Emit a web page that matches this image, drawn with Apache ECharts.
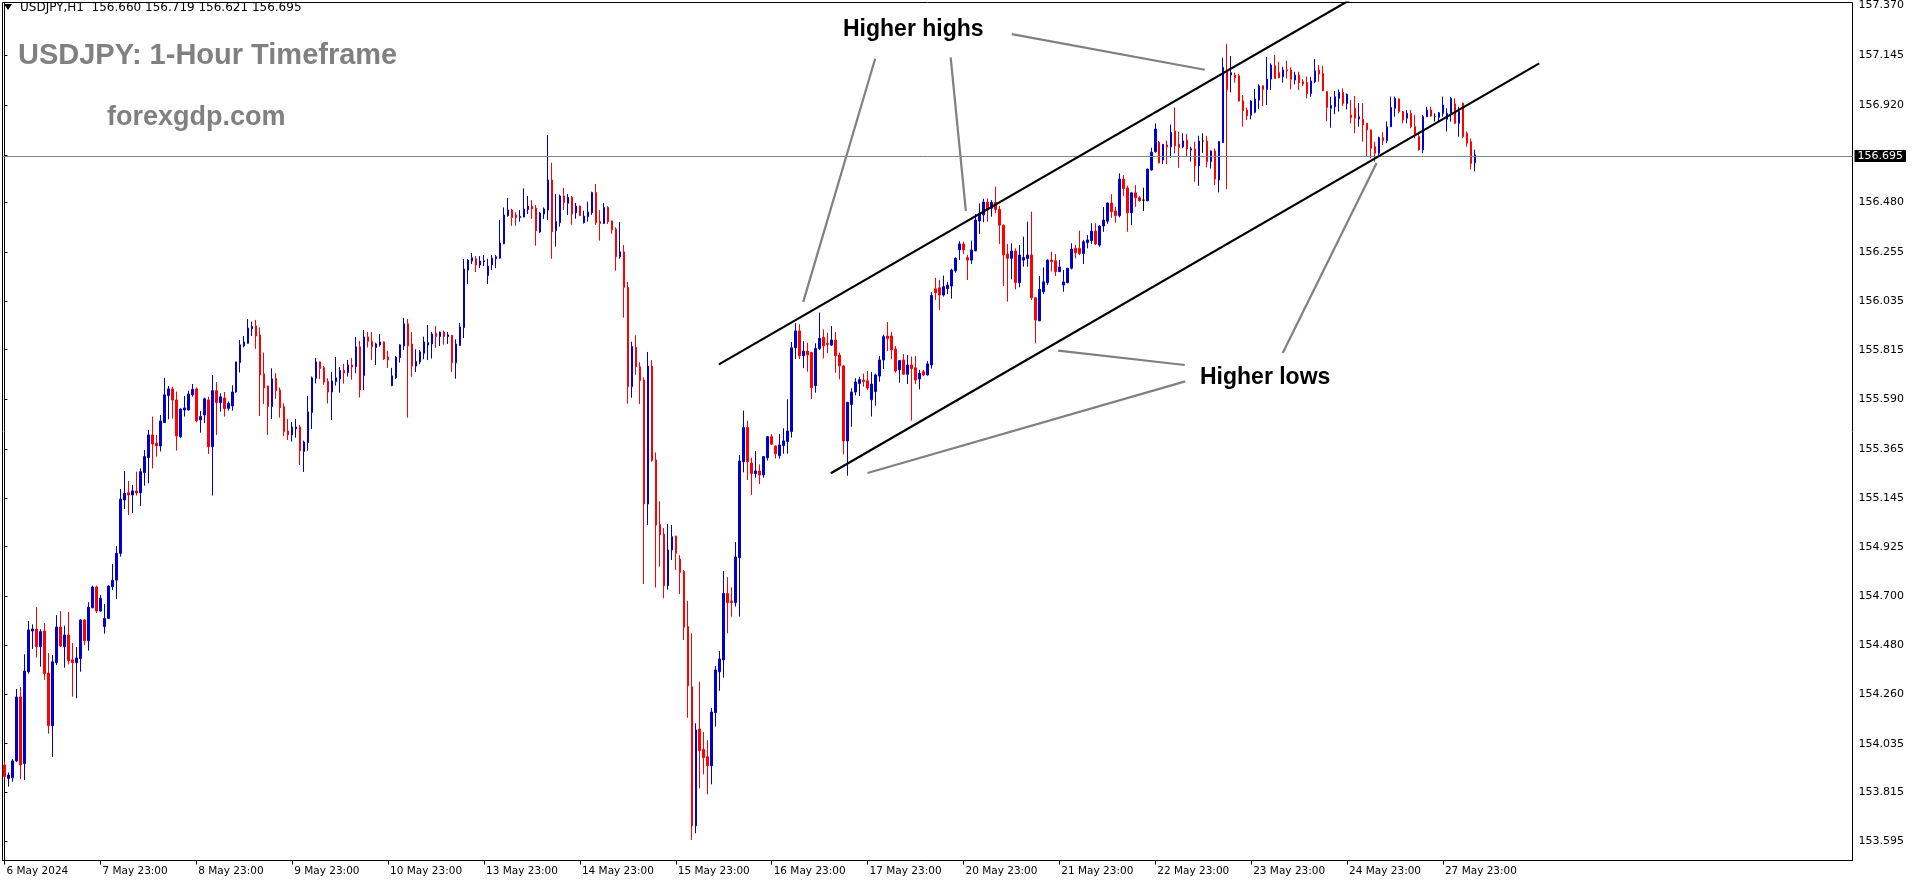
<!DOCTYPE html>
<html><head><meta charset="utf-8">
<script src="https://cdn.jsdelivr.net/npm/echarts@6/dist/echarts.min.js"></script>
<style>html,body{margin:0;padding:0;background:#fff;}#c{width:1916px;height:884px;}</style>
</head><body><div id="c"></div>
<script>
// ---- data (USDJPY H1) ----
const opens=[
153.939,153.878,153.881,153.957,154.246,153.945,154.360,154.544,154.553,154.473,
154.544,154.354,154.116,154.401,154.562,154.473,154.526,154.414,154.401,154.419,
154.594,154.500,154.649,154.743,154.634,154.564,154.601,154.744,154.774,154.895,
155.136,155.169,155.159,155.177,155.169,155.260,155.328,155.430,155.392,155.380,
155.486,155.608,155.638,155.588,155.422,155.543,155.543,155.611,155.638,155.498,
155.520,155.588,155.377,155.630,155.576,155.597,155.550,155.561,155.624,155.757,
155.832,155.844,155.910,155.923,155.882,155.706,155.651,155.558,155.686,155.633,
155.557,155.448,155.430,155.457,155.466,155.355,155.395,155.531,155.686,155.760,
155.733,155.672,155.624,155.671,155.683,155.721,155.712,155.746,155.739,155.828,
155.698,155.873,155.853,155.825,155.837,155.850,155.782,155.653,155.688,155.779,
155.832,155.932,155.841,155.741,155.760,155.799,155.836,155.841,155.889,155.874,
155.895,155.874,155.880,155.756,155.835,155.915,156.175,156.216,156.226,156.198,
156.213,156.150,156.198,156.226,156.229,156.294,156.421,156.446,156.424,156.412,
156.415,156.449,156.464,156.455,156.347,156.428,156.446,156.582,156.353,156.389,
156.510,156.477,156.504,156.434,156.464,156.389,156.416,156.434,156.525,156.394,
156.385,156.458,156.397,156.360,156.235,156.257,156.097,155.648,155.826,155.738,
155.678,155.118,155.741,155.317,155.026,154.982,154.749,154.910,154.973,154.869,
154.812,154.564,154.292,153.664,154.101,154.009,153.976,153.935,154.175,154.360,
154.413,154.714,154.680,154.672,154.875,155.309,155.464,155.303,155.255,155.267,
155.249,155.327,155.422,155.380,155.336,155.382,155.400,155.445,155.824,155.900,
155.788,155.809,155.802,155.653,155.821,155.871,155.844,155.836,155.859,155.791,
155.742,155.403,155.567,155.624,155.662,155.678,155.675,155.589,155.626,155.696,
155.769,155.877,155.877,155.818,155.724,155.769,155.704,155.746,155.733,155.683,
155.716,155.701,155.746,156.090,156.095,156.062,156.091,156.103,156.172,156.266,
156.293,156.231,156.220,156.262,156.397,156.424,156.482,156.454,156.481,156.449,
156.378,156.247,156.228,156.261,156.118,156.220,156.228,156.243,156.050,155.946,
156.077,156.118,156.220,156.217,156.168,156.107,156.118,156.183,156.273,156.273,
156.250,156.299,156.308,156.351,156.288,156.374,156.396,156.478,156.442,156.421,
156.586,156.546,156.434,156.524,156.502,156.491,156.488,156.627,156.710,156.752,
156.672,156.740,156.732,156.803,156.744,156.731,156.762,156.717,156.722,156.646,
156.758,156.758,156.665,156.713,156.582,156.751,157.071,157.056,157.056,157.053,
156.940,156.898,156.875,156.888,156.943,157.008,156.991,157.038,157.098,157.067,
157.049,157.080,157.079,157.034,157.056,157.026,157.022,156.973,157.026,157.079,
157.064,156.981,156.906,156.913,156.951,156.978,156.928,156.876,156.906,156.858,
156.856,156.838,156.808,156.733,156.703,156.773,156.760,156.823,156.906,156.948,
156.891,156.861,156.883,156.823,156.778,156.718,156.868,156.898,156.868,156.865,
156.883,156.856,156.883,156.926,156.838,156.929,156.793,156.755,156.660];
const highs=[
153.954,153.905,153.966,154.282,154.291,154.439,154.589,154.574,154.652,154.552,
154.580,154.445,154.436,154.616,154.634,154.568,154.630,154.490,154.472,154.597,
154.597,154.674,154.749,154.749,154.707,154.666,154.750,154.847,154.928,155.186,
155.267,155.222,155.204,155.264,155.279,155.362,155.453,155.513,155.430,155.520,
155.688,155.651,155.648,155.626,155.550,155.606,155.630,155.660,155.645,155.538,
155.599,155.602,155.701,155.669,155.618,155.624,155.581,155.654,155.761,155.859,
155.877,155.954,155.942,155.950,155.916,155.802,155.653,155.731,155.709,155.644,
155.573,155.502,155.489,155.502,155.475,155.404,155.606,155.694,155.778,155.762,
155.742,155.686,155.715,155.782,155.737,155.751,155.769,155.778,155.873,155.855,
155.904,155.895,155.895,155.847,155.886,155.852,155.810,155.733,155.787,155.840,
155.959,155.954,155.895,155.817,155.814,155.874,155.927,155.895,155.922,155.897,
155.901,155.895,155.882,155.862,155.936,156.225,156.225,156.252,156.238,156.238,
156.243,156.226,156.243,156.243,156.401,156.458,156.501,156.452,156.436,156.446,
156.544,156.510,156.491,156.469,156.437,156.458,156.785,156.660,156.519,156.516,
156.546,156.519,156.510,156.478,156.466,156.443,156.484,156.529,156.564,156.446,
156.478,156.464,156.399,156.368,156.392,156.288,156.121,155.851,155.880,155.758,
155.690,155.805,155.768,155.351,155.131,155.009,155.027,155.023,154.975,154.887,
154.820,154.680,154.534,154.127,154.315,154.088,154.051,154.196,154.386,154.454,
154.815,154.787,154.741,154.946,155.339,155.540,155.494,155.327,155.357,155.297,
155.335,155.425,155.434,155.382,155.434,155.460,155.591,155.850,155.935,155.930,
155.854,155.847,155.806,155.844,155.983,155.907,155.892,155.922,155.895,155.802,
155.745,155.580,155.641,155.686,155.693,155.707,155.719,155.714,155.707,155.787,
155.883,155.940,155.895,155.832,155.769,155.796,155.791,155.784,155.787,155.724,
155.724,155.763,156.075,156.140,156.130,156.150,156.122,156.181,156.232,156.305,
156.303,156.244,156.308,156.428,156.476,156.497,156.499,156.491,156.552,156.464,
156.380,156.293,156.296,156.273,156.288,156.326,156.394,156.439,156.052,156.148,
156.187,156.223,156.258,156.247,156.220,156.175,156.185,156.296,156.288,156.353,
156.311,156.333,156.387,156.387,156.378,156.460,156.480,156.518,156.461,156.612,
156.604,156.556,156.526,156.559,156.509,156.547,156.634,156.728,156.838,156.758,
156.745,156.760,156.833,156.909,156.800,156.793,156.790,156.732,156.755,156.782,
156.793,156.782,156.716,156.725,156.758,157.135,157.196,157.142,157.067,157.061,
156.966,156.909,156.942,156.993,157.014,157.010,157.138,157.109,157.147,157.116,
157.094,157.121,157.091,157.071,157.071,157.037,157.049,157.047,157.129,157.101,
157.098,156.983,156.958,156.984,156.991,156.996,156.973,156.943,156.962,156.929,
156.929,156.840,156.810,156.755,156.778,156.798,156.846,156.959,156.959,156.950,
156.893,156.898,156.898,156.876,156.790,156.876,156.913,156.913,156.883,156.888,
156.959,156.906,156.956,156.951,156.913,156.931,156.801,156.770,156.719];
const lows=[
153.878,153.841,153.863,153.951,153.875,153.871,154.351,154.463,154.424,154.383,
154.324,154.080,153.975,154.390,154.472,154.378,154.393,154.247,154.240,154.360,
154.481,154.455,154.646,154.625,154.632,154.532,154.598,154.729,154.689,154.880,
155.095,155.068,155.077,155.156,155.109,155.201,155.212,155.279,155.332,155.355,
155.484,155.501,155.504,155.359,155.415,155.513,155.540,155.603,155.487,155.440,
155.483,155.344,155.156,155.430,155.535,155.513,155.540,155.540,155.621,155.712,
155.826,155.842,155.877,155.819,155.516,155.570,155.430,155.502,155.593,155.508,
155.425,155.407,155.400,155.418,155.294,155.263,155.359,155.457,155.663,155.683,
155.656,155.572,155.498,155.653,155.621,155.662,155.694,155.680,155.709,155.599,
155.633,155.825,155.769,155.746,155.829,155.769,155.733,155.650,155.683,155.757,
155.814,155.508,155.693,155.714,155.750,155.772,155.768,155.775,155.824,155.832,
155.838,155.841,155.714,155.684,155.832,155.868,156.112,156.202,156.166,156.184,
156.193,156.112,156.175,156.184,156.226,156.292,156.416,156.375,156.375,156.394,
156.413,156.428,156.406,156.285,156.344,156.406,156.401,156.226,156.281,156.371,
156.446,156.424,156.380,156.407,156.419,156.385,156.394,156.424,156.379,156.308,
156.383,156.383,156.339,156.172,156.226,155.960,155.571,155.598,155.702,155.570,
154.756,155.023,155.309,154.740,154.835,154.692,154.731,154.865,154.820,154.711,
154.503,154.152,153.600,153.630,153.833,153.896,153.806,153.851,154.112,154.274,
154.333,154.534,154.609,154.654,154.609,155.261,155.226,155.159,155.237,155.208,
155.237,155.314,155.385,155.323,155.323,155.345,155.345,155.418,155.773,155.773,
155.732,155.716,155.592,155.621,155.814,155.776,155.799,155.832,155.711,155.681,
155.342,155.246,155.467,155.609,155.606,155.648,155.633,155.513,155.562,155.671,
155.728,155.809,155.772,155.711,155.666,155.701,155.660,155.495,155.660,155.636,
155.696,155.699,155.730,156.040,155.995,156.055,156.067,156.046,156.163,156.220,
156.247,156.130,156.202,156.260,156.338,156.391,156.394,156.416,156.431,156.293,
156.103,156.032,156.133,156.088,156.097,156.190,156.190,156.040,155.844,155.944,
156.067,156.107,156.168,156.148,156.166,156.077,156.115,156.178,156.228,156.243,
156.202,156.273,156.293,156.288,156.280,156.348,156.384,156.411,156.389,156.413,
156.509,156.348,156.378,156.461,156.484,156.442,156.486,156.625,156.705,156.657,
156.654,156.654,156.683,156.702,156.637,156.725,156.690,156.665,156.574,156.556,
156.705,156.639,156.634,156.559,156.526,156.749,156.540,156.978,157.022,156.936,
156.823,156.853,156.856,156.883,156.903,156.916,156.921,156.988,157.039,157.042,
157.022,157.041,156.991,157.014,156.988,157.007,156.951,156.958,157.019,157.026,
156.983,156.848,156.818,156.879,156.891,156.916,156.901,156.838,156.793,156.823,
156.755,156.688,156.680,156.665,156.695,156.740,156.748,156.821,156.868,156.883,
156.838,156.838,156.816,156.770,156.715,156.703,156.866,156.868,156.846,156.846,
156.868,156.801,156.846,156.836,156.778,156.770,156.733,156.630,156.621];
const closes=[
153.886,153.893,153.957,154.246,153.939,154.363,154.549,154.553,154.473,154.541,
154.351,154.116,154.405,154.562,154.476,154.526,154.410,154.401,154.422,154.594,
154.500,154.652,154.743,154.634,154.692,154.601,154.747,154.773,154.895,155.140,
155.166,155.159,155.177,155.168,155.264,155.332,155.430,155.389,155.380,155.493,
155.611,155.638,155.588,155.425,155.547,155.552,155.615,155.636,155.495,155.513,
155.593,155.377,155.630,155.576,155.602,155.549,155.573,155.624,155.760,155.837,
155.850,155.913,155.920,155.877,155.701,155.642,155.558,155.683,155.630,155.553,
155.445,155.430,155.466,155.466,155.358,155.398,155.534,155.688,155.760,155.730,
155.669,155.624,155.674,155.688,155.721,155.710,155.746,155.737,155.828,155.633,
155.873,155.852,155.829,155.841,155.850,155.773,155.769,155.697,155.782,155.837,
155.932,155.832,155.741,155.762,155.805,155.850,155.847,155.886,155.874,155.895,
155.874,155.882,155.756,155.841,155.918,156.180,156.220,156.231,156.198,156.216,
156.217,156.193,156.229,156.235,156.297,156.424,156.446,156.412,156.412,156.418,
156.451,156.464,156.451,156.353,156.433,156.451,156.582,156.348,156.394,156.510,
156.480,156.504,156.428,156.464,156.421,156.419,156.437,156.525,156.389,156.385,
156.458,156.394,156.357,156.235,156.257,156.097,155.648,155.830,155.738,155.675,
155.118,155.741,155.314,155.023,154.978,154.749,154.910,154.970,154.895,154.809,
154.561,154.297,153.664,154.097,154.003,153.972,153.935,154.178,154.368,154.418,
154.714,154.672,154.672,154.878,155.312,155.464,155.309,155.255,155.267,155.249,
155.332,155.422,155.388,155.345,155.385,155.403,155.448,155.824,155.900,155.788,
155.809,155.791,155.644,155.821,155.867,155.832,155.839,155.859,155.788,155.742,
155.403,155.577,155.624,155.669,155.680,155.671,155.642,155.660,155.701,155.769,
155.874,155.865,155.814,155.719,155.766,155.704,155.746,155.730,155.678,155.708,
155.701,155.751,156.060,156.073,156.062,156.100,156.107,156.175,156.228,156.293,
156.266,156.220,156.266,156.401,156.427,156.482,156.446,156.481,156.449,156.378,
156.243,156.228,156.261,156.118,156.243,156.232,156.243,156.050,155.949,156.088,
156.122,156.220,156.213,156.168,156.189,156.121,156.183,156.270,156.253,156.250,
156.303,156.311,156.351,156.293,156.374,156.401,156.478,156.439,156.421,156.586,
156.544,156.434,156.524,156.502,156.488,156.491,156.631,156.707,156.812,156.660,
156.743,156.731,156.797,156.737,156.729,156.758,156.722,156.723,156.646,156.758,
156.758,156.665,156.713,156.586,156.755,157.091,156.989,157.067,157.044,156.939,
156.895,156.872,156.939,156.948,157.007,156.991,157.038,157.101,157.041,157.044,
157.079,157.076,157.037,157.056,157.022,157.016,156.973,157.029,157.076,157.061,
156.985,156.910,156.918,156.958,156.978,156.928,156.969,156.864,156.861,156.868,
156.831,156.808,156.725,156.703,156.773,156.760,156.823,156.909,156.951,156.891,
156.853,156.883,156.823,156.785,156.718,156.868,156.898,156.871,156.868,156.886,
156.921,156.883,156.951,156.838,156.891,156.778,156.748,156.657,156.695];

const xTickLabels=['6 May 2024','7 May 23:00','8 May 23:00','9 May 23:00','10 May 23:00',
'13 May 23:00','14 May 23:00','15 May 23:00','16 May 23:00','17 May 23:00','20 May 23:00',
'21 May 23:00','22 May 23:00','23 May 23:00','24 May 23:00','27 May 23:00'];
const barsPerLabel=24;
const yTickValues=[153.595,153.815,154.035,154.260,154.480,154.700,154.925,155.145,155.365,
155.590,155.815,156.035,156.255,156.480,156.695,156.920,157.145,157.370];
const lastPrice=156.695;
const headerText='USDJPY,H1  156.660 156.719 156.621 156.695';

// annotation lines in (bar index, price)
const channelLines=[
  [[178.8,155.749],[338,157.409]],
  [[206.8,155.257],[384.1,157.109]]
];
const pointerLines=[
  [[217.9,157.130],[199.9,156.031]],
  [[236.8,157.136],[240.6,156.442]],
  [[252.1,157.241],[300.4,157.080]],
  [[263.7,155.811],[295.4,155.746]],
  [[295.5,155.672],[216.0,155.258]],
  [[319.9,155.800],[343.4,156.659]]
];

// ---- chart ----
const NCAT=463;
const cats=[];for(let i=0;i<NCAT;i++)cats.push(String(i));
const candleData=opens.map((o,i)=>{
  const d={value:[o,closes[i],lows[i],highs[i]]};
  if(o===closes[i]) d.itemStyle={borderColor:'#000',borderColor0:'#000',color:'#000',color0:'#000'};
  return d;
});
const FONT='"DejaVu Sans", sans-serif';
const BOLD='"Liberation Sans", Arial, sans-serif';
const tickShow=(i)=> i%barsPerLabel===0 && (i/barsPerLabel)<xTickLabels.length;

const lineSeries=[];
channelLines.forEach(l=>lineSeries.push({type:'line',xAxisIndex:1,yAxisIndex:0,data:l,symbol:'none',silent:true,
  lineStyle:{color:'#000',width:2.2},z:5,animation:false}));
pointerLines.forEach(l=>lineSeries.push({type:'line',xAxisIndex:1,yAxisIndex:0,data:l,symbol:'none',silent:true,
  lineStyle:{color:'#808080',width:2.2},z:4,animation:false}));

const chart=echarts.init(document.getElementById('c'),null,{renderer:'canvas'});
chart.setOption({
  animation:false,
  backgroundColor:'#fff',
  grid:{left:2.5,right:63.5,top:2.5,bottom:23.5,show:true,borderColor:'#000',borderWidth:1,backgroundColor:'transparent'},
  xAxis:[{
    type:'category',data:cats,boundaryGap:true,
    axisLine:{lineStyle:{color:'#000',width:1}},
    axisTick:{show:true,alignWithLabel:true,interval:tickShow,length:4,lineStyle:{color:'#000'}},
    axisLabel:{interval:tickShow,formatter:(v,i)=>xTickLabels[Math.round(i/barsPerLabel)]||'',
      align:'left',padding:[0,0,0,2],margin:5,fontFamily:FONT,fontSize:10.5,color:'#000',hideOverlap:false},
    splitLine:{show:false}
  },{
    type:'value',min:-0.5,max:NCAT-0.5,show:false
  }],
  yAxis:[{
    type:'value',position:'right',min:153.507,max:157.384,scale:true,
    axisLine:{show:true,lineStyle:{color:'#000'}},
    axisTick:{show:true,length:3,customValues:yTickValues,lineStyle:{color:'#000'}},
    axisLabel:{customValues:yTickValues,formatter:v=>v.toFixed(3),margin:6,fontFamily:FONT,fontSize:11,color:'#000'},
    splitLine:{show:false}
  }],
  series:[{
    type:'candlestick',xAxisIndex:0,yAxisIndex:0,data:candleData,barWidth:2,
    itemStyle:{color:'#0000CD',color0:'#FF0000',borderColor:'#0000CD',borderColor0:'#FF0000',borderColorDoji:'#000',borderWidth:1},
    emphasis:{disabled:true},silent:true,z:3,
    markLine:{symbol:'none',silent:true,animation:false,
      data:[{yAxis:lastPrice}],
      lineStyle:{color:'#778899',width:1,type:'solid'},
      label:{show:true,position:'end',distance:2,formatter:lastPrice.toFixed(3),backgroundColor:'#000',color:'#fff',
        padding:[1,3,0,3],fontFamily:FONT,fontSize:11}
    }
  }].concat(lineSeries),
  graphic:[
    {type:'polygon',shape:{points:[[4,4],[12,4],[8,10]]},style:{fill:'#000'}},
    {type:'text',left:20,top:2,style:{text:headerText,font:'12px '+FONT,fill:'#000'}},
    {type:'text',left:18,top:41,style:{text:'USDJPY: 1-Hour Timeframe',font:'bold 29px '+BOLD,fill:'#808080'}},
    {type:'text',left:107,top:104,style:{text:'forexgdp.com',font:'bold 27px '+BOLD,fill:'#808080'}},
    {type:'text',left:843,top:18,style:{text:'Higher highs',font:'bold 23px '+BOLD,fill:'#000'}},
    {type:'text',left:1200,top:366,style:{text:'Higher lows',font:'bold 23px '+BOLD,fill:'#000'}}
  ]
});
</script></body></html>
